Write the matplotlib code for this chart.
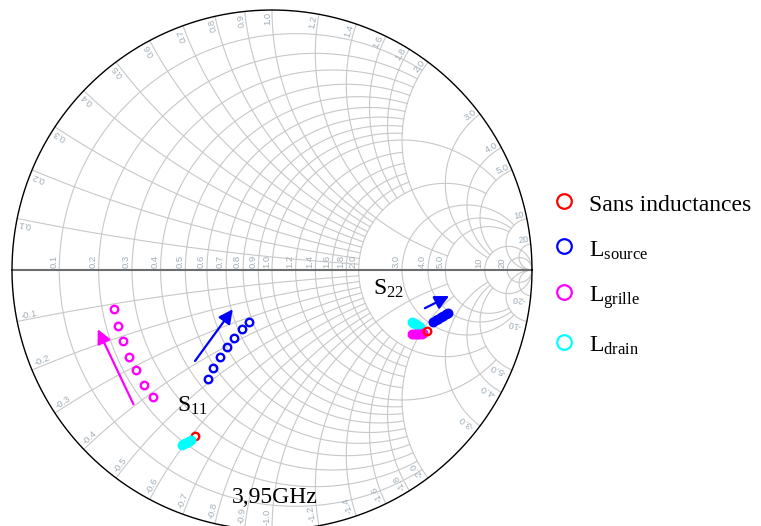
import numpy as np
import matplotlib
matplotlib.use("Agg")
import matplotlib.pyplot as plt
from matplotlib.lines import Line2D

# ---------------- data : reflection coefficients (real, imag) ----------------
s11_sans_re = [-0.298]
s11_sans_im = [-0.640]
s11_source_re = [-0.2473, -0.2258, -0.2000, -0.1742, -0.1462, -0.1165, -0.0885]
s11_source_im = [-0.4204, -0.3758, -0.3335, -0.2950, -0.2604, -0.2281, -0.2012]
s11_grille_re = [-0.4565, -0.4912, -0.5219, -0.5488, -0.5731, -0.5915, -0.6065]
s11_grille_im = [-0.4896, -0.4412, -0.3865, -0.3327, -0.2731, -0.2135, -0.1500]
s11_drain_re = [-0.313, -0.319, -0.325, -0.330, -0.336, -0.342, -0.348]
s11_drain_im = [-0.654, -0.657, -0.661, -0.664, -0.667, -0.670, -0.673]

s22_sans_re = [0.595]
s22_sans_im = [-0.235]
s22_source_re = [0.620, 0.630, 0.640, 0.649, 0.659, 0.668, 0.678]
s22_source_im = [-0.199, -0.193, -0.187, -0.181, -0.176, -0.170, -0.164]
s22_grille_re = [0.582, 0.575, 0.567, 0.560, 0.552, 0.545, 0.537]
s22_grille_im = [-0.244, -0.245, -0.245, -0.246, -0.246, -0.247, -0.247]
s22_drain_re = [0.569, 0.564, 0.558, 0.553, 0.548, 0.543, 0.537]
s22_drain_im = [-0.218, -0.215, -0.212, -0.209, -0.205, -0.202, -0.199]

# trend arrows (tail -> head)
arrow_s11_grille = [(-0.533, -0.516), (-0.670, -0.228)]
arrow_s11_source = [(-0.296, -0.350), (-0.151, -0.151)]
arrow_s22_source = [(0.588, -0.147), (0.681, -0.100)]

series_names = ["Sans inductances", r"$\mathrm{L}_{\mathrm{source}}$",
                r"$\mathrm{L}_{\mathrm{grille}}$", r"$\mathrm{L}_{\mathrm{drain}}$"]
series_colors = ["#ff0000", "#0000ff", "#ff00ff", "#00ffff"]

# Smith grid values and the |x| / r limit up to which each group is drawn
grid_fine = [0.1, 0.2, 0.3, 0.4, 0.5, 0.6, 0.7, 0.8, 0.9, 1.2, 1.4, 1.6, 1.8]
grid_mid = [1.0, 2.0]
grid_major = [3.0, 4.0, 5.0]
grid_top = [10.0, 20.0]
grid_limits = [2.0, 5.0, 10.0, np.inf]
label_values = [0.1, 0.2, 0.3, 0.4, 0.5, 0.6, 0.7, 0.8, 0.9, 1.0,
                1.2, 1.4, 1.6, 1.8, 2.0, 3.0, 4.0, 5.0, 10.0, 20.0]

# ---------------------------------------------------------------------------
plt.rcParams["mathtext.fontset"] = "custom"
plt.rcParams["mathtext.rm"] = "Liberation Serif"
plt.rcParams["mathtext.it"] = "Liberation Serif:italic"

W, H = 761, 526
fig = plt.figure(figsize=(W / 100, H / 100), dpi=100)
ax = fig.add_axes([0, 0, 1, 1])
R_PX, CX, CY = 260.0, 272.0, 270.0
ax.set_xlim(-CX / R_PX, (W - CX) / R_PX)
ax.set_ylim((CY - H) / R_PX, CY / R_PX)
ax.set_aspect("equal")
ax.axis("off")

GRID = "#c8c8c8"
LBL = "#a0aeb8"


def gamma(z):
    return (z - 1) / (z + 1)


def r_circle(r, xmax):
    t = np.linspace(-np.arctan(xmax) + 1e-7, np.arctan(xmax) - 1e-7, 800)
    return gamma(r + 1j * np.tan(t))


def x_arc(x, rmax):
    t = np.linspace(0, np.arctan(rmax) - 1e-7, 800)
    return gamma(np.tan(t) + 1j * x)


for group, lim in zip([grid_fine, grid_mid, grid_major, grid_top], grid_limits):
    for v in group:
        g = r_circle(v, lim)
        ax.plot(g.real, g.imag, color=GRID, lw=0.8, zorder=1)
        for s in (1, -1):
            g = x_arc(s * v, lim)
            ax.plot(g.real, g.imag, color=GRID, lw=0.8, zorder=1)

# real axis and outer circle
ax.plot([-1, 1], [0, 0], color="#6e6e6e", lw=1.5, zorder=2)
th = np.linspace(0, 2 * np.pi, 1000)
ax.plot(np.cos(th), np.sin(th), color="black", lw=1.0, zorder=3)


def fmt(v):
    return f"{v:.0f}" if v >= 10 else f"{v:.1f}"


lbl_font = dict(family="Liberation Sans", fontsize=6.8, color=LBL, zorder=2)
# resistance labels along the real axis
for v in label_values:
    g = gamma(complex(v, 0))
    ax.text(g.real - 0.004, 0.008, fmt(v), rotation=90, ha="left", va="bottom",
            rotation_mode="anchor", **lbl_font)
# reactance labels around the rim
for v in label_values:
    for s in (1, -1):
        if s > 0:
            g = gamma(complex(0, v)) * 0.993
        else:
            g = gamma(complex(0, -v)) * 0.982
        phi = np.degrees(np.arctan2(g.imag, g.real))
        if s > 0:
            rot, ha = phi, "right"
        else:
            rot, ha = phi + 180, "left"
        txt = fmt(v) if s > 0 else "-" + fmt(v)
        ax.text(g.real, g.imag, txt, rotation=rot, ha=ha, va="bottom",
                rotation_mode="anchor", **lbl_font)

# data markers
mk = dict(marker="o", ls="none", ms=5.4, mew=1.7, zorder=5)
ax.plot(s11_grille_re, s11_grille_im, mec=series_colors[2], mfc="none", **mk)
ax.plot(s11_source_re, s11_source_im, mec=series_colors[1], mfc="none", **mk)
ax.plot(s11_sans_re, s11_sans_im, mec=series_colors[0], mfc="none", **mk)
ax.plot(s11_drain_re, s11_drain_im, mec=series_colors[3], mfc=series_colors[3], **mk)
ax.plot(s22_source_re, s22_source_im, mec=series_colors[1], mfc=series_colors[1], **mk)
ax.plot(s22_drain_re, s22_drain_im, mec=series_colors[3], mfc=series_colors[3], **mk)
ax.plot(s22_grille_re, s22_grille_im, mec=series_colors[2], mfc=series_colors[2], **mk)
ax.plot(s22_sans_re, s22_sans_im, mec=series_colors[0], mfc="none", **mk)

for (tail, head), col in zip([arrow_s11_grille, arrow_s11_source, arrow_s22_source],
                             [series_colors[2], series_colors[1], series_colors[1]]):
    ax.annotate("", xy=head, xytext=tail, zorder=6,
                arrowprops=dict(arrowstyle="-|>,head_length=0.6,head_width=0.3",
                                color=col, lw=1.6, shrinkA=0, shrinkB=0,
                                mutation_scale=14))

txt_font = dict(family="Liberation Serif", color="black", zorder=7)
ax.text(-0.365, -0.544, r"$\mathrm{S}_{11}$", fontsize=17, ha="left",
        va="baseline", **txt_font)
ax.text(0.388, -0.096, r"$\mathrm{S}_{22}$", fontsize=17, ha="left",
        va="baseline", **txt_font)
ax.text(0.0115, -0.896, "3,95GHz", fontsize=17, ha="center", va="baseline",
        **txt_font)

handles = [Line2D([], [], marker="o", ls="none", mfc="none", mec=c, ms=10.5, mew=1.6)
           for c in series_colors]
leg = fig.legend(handles, series_names, loc="upper left",
                 bbox_to_anchor=(552 / W, 1 - 191 / H), frameon=False,
                 prop={"family": "Liberation Serif", "size": 17},
                 handlelength=1.0, handletextpad=0.55, labelspacing=0.86,
                 borderpad=0, borderaxespad=0, handleheight=1.2)

fig.savefig("out.png", dpi=100, facecolor="white")
